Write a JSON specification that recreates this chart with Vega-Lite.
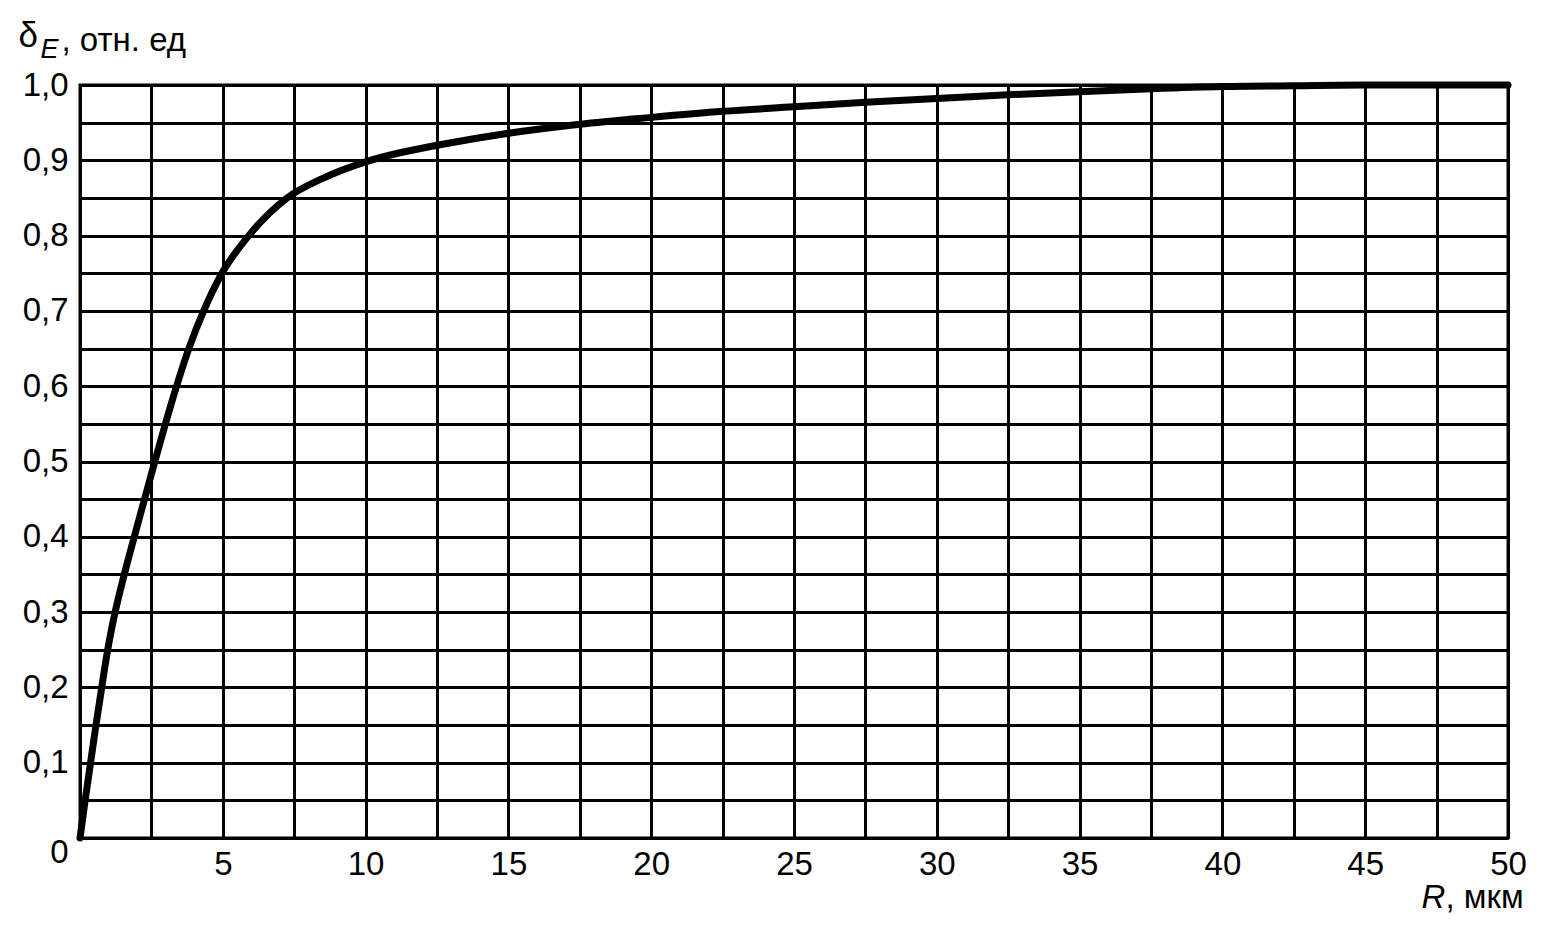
{
  "$schema": "https://vega.github.io/schema/vega-lite/v6.json",
  "autosize": {"type": "none"},
  "width": 1428,
  "height": 753,
  "padding": {"left": 80, "top": 85, "right": 34, "bottom": 92},
  "background": "white",
  "config": {
    "view": {"stroke": "black", "strokeWidth": 3},
    "font": "Liberation Sans",
    "axis": {"labelFont": "Liberation Sans", "titleFont": "Liberation Sans", "labelColor": "black", "titleColor": "black", "titleFontWeight": "normal"}
  },
  "data": {"values": [
    {"R": 0, "d": 0},
    {"R": 0.18, "d": 0.05},
    {"R": 0.37, "d": 0.1},
    {"R": 0.56, "d": 0.15},
    {"R": 0.76, "d": 0.2},
    {"R": 0.97, "d": 0.25},
    {"R": 1.23, "d": 0.3},
    {"R": 1.55, "d": 0.35},
    {"R": 1.9, "d": 0.4},
    {"R": 2.26, "d": 0.45},
    {"R": 2.62, "d": 0.5},
    {"R": 2.99, "d": 0.55},
    {"R": 3.38, "d": 0.6},
    {"R": 3.81, "d": 0.65},
    {"R": 4.33, "d": 0.7},
    {"R": 4.97, "d": 0.75},
    {"R": 5.91, "d": 0.8},
    {"R": 7.25, "d": 0.85},
    {"R": 8.5, "d": 0.876},
    {"R": 10, "d": 0.898},
    {"R": 11.2, "d": 0.91},
    {"R": 12.5, "d": 0.92},
    {"R": 15, "d": 0.936},
    {"R": 17.5, "d": 0.948},
    {"R": 20, "d": 0.957},
    {"R": 22.5, "d": 0.965},
    {"R": 25, "d": 0.971},
    {"R": 27.5, "d": 0.977},
    {"R": 30, "d": 0.982},
    {"R": 32.5, "d": 0.987},
    {"R": 35, "d": 0.991},
    {"R": 37.5, "d": 0.995},
    {"R": 40, "d": 0.998},
    {"R": 42.5, "d": 0.999},
    {"R": 45, "d": 1.0},
    {"R": 50, "d": 1.0}
  ]},
  "resolve": {"axis": {"x": "independent", "y": "independent"}},
  "layer": [
    {
      "mark": {"type": "line", "color": "black", "strokeWidth": 7, "interpolate": "monotone", "strokeCap": "round", "clip": false},
      "encoding": {
        "x": {"field": "R", "type": "quantitative", "scale": {"domain": [0, 50], "nice": false, "zero": true},
          "axis": {
            "orient": "bottom",
            "values": [0, 2.5, 5, 7.5, 10, 12.5, 15, 17.5, 20, 22.5, 25, 27.5, 30, 32.5, 35, 37.5, 40, 42.5, 45, 47.5, 50],
            "labelExpr": "datum.value > 0 && datum.value % 5 == 0 ? datum.label : ''",
            "labelFontSize": 33, "labelPadding": 10, "labelFlush": false, "labelOverlap": false,
            "ticks": false, "domain": false,
            "grid": true, "gridColor": "black", "gridWidth": 3, "gridOpacity": 1,
            "title": ", мкм", "titleFontSize": 33, "titleX": 1365, "titleY": 69, "titleAlign": "left", "titleBaseline": "alphabetic", "titleAngle": 0
          }},
        "y": {"field": "d", "type": "quantitative", "scale": {"domain": [0, 1], "nice": false},
          "axis": {
            "orient": "left",
            "values": [0, 0.05, 0.1, 0.15, 0.2, 0.25, 0.3, 0.35, 0.4, 0.45, 0.5, 0.55, 0.6, 0.65, 0.7, 0.75, 0.8, 0.85, 0.9, 0.95, 1],
            "labelExpr": "datum.value == 0 ? '0' : (abs(datum.value * 10 - round(datum.value * 10)) < 0.001 ? replace(format(datum.value, '.1f'), '.', ',') : '')",
            "labelOffset": {"condition": {"test": "datum.value == 0", "value": 14}, "value": 0},
            "labelFontSize": 33, "labelPadding": 12, "labelOverlap": false, "labelBound": false,
            "ticks": false, "domain": false,
            "grid": true, "gridColor": "black", "gridWidth": 3, "gridOpacity": 1,
            "title": "δ", "titleFontSize": 35, "titleX": -62, "titleY": -39, "titleAlign": "left", "titleBaseline": "alphabetic", "titleAngle": 0
          }}
      }
    },
    {
      "mark": {"type": "line", "opacity": 0},
      "encoding": {
        "x": {"field": "R", "type": "quantitative",
          "axis": {"orient": "top", "labels": false, "ticks": false, "domain": false, "grid": false,
            "title": "R", "titleFontSize": 33, "titleFontStyle": "italic", "titleX": 1341, "titleY": 822, "titleAlign": "left", "titleBaseline": "alphabetic", "titleAngle": 0}},
        "y": {"field": "d", "type": "quantitative",
          "axis": {"orient": "right", "labels": false, "ticks": false, "domain": false, "grid": false,
            "title": "E", "titleFontSize": 27, "titleFontStyle": "italic", "titleX": -1468, "titleY": -28, "titleAlign": "left", "titleBaseline": "alphabetic", "titleAngle": 0}}
      }
    },
    {
      "mark": {"type": "line", "opacity": 0},
      "encoding": {
        "x": {"field": "R", "type": "quantitative",
          "axis": {"orient": "top", "labels": false, "ticks": false, "domain": false, "grid": false,
            "title": ", отн. ед", "titleFontSize": 33, "titleX": -19, "titleY": -35, "titleAlign": "left", "titleBaseline": "alphabetic", "titleAngle": 0}},
        "y": {"field": "d", "type": "quantitative",
          "axis": {"orient": "right", "labels": false, "ticks": false, "domain": false, "grid": false, "title": null}}
      }
    }
  ]
}
